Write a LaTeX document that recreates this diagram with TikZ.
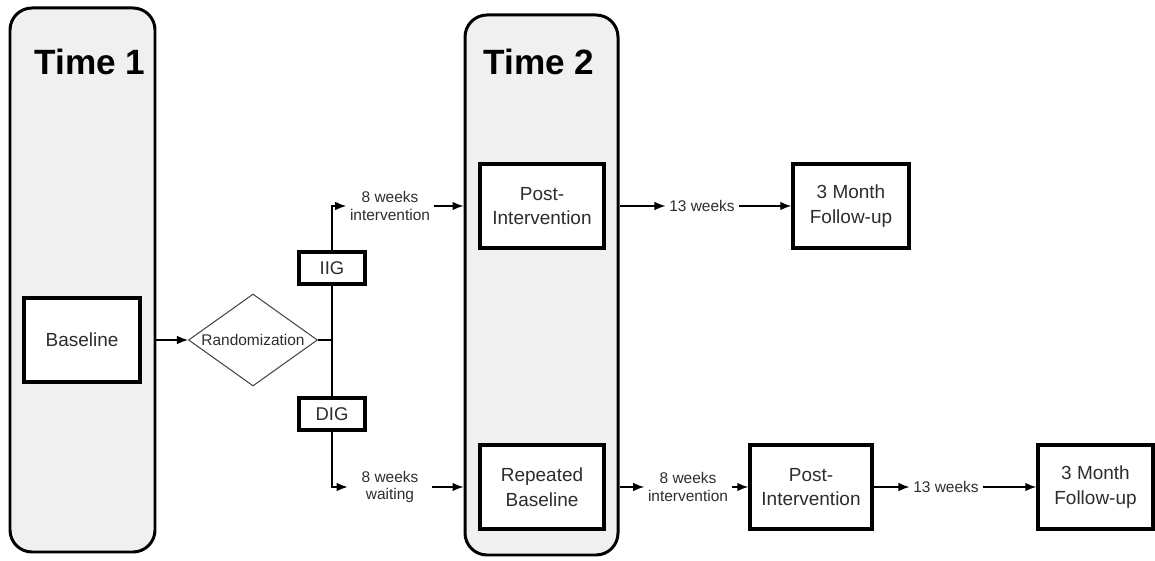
\documentclass[tikz,border=0pt]{standalone}
\usepackage{fontspec}
\setmainfont{Liberation Sans}
\usetikzlibrary{shapes.geometric,arrows.meta}
\definecolor{phasegray}{RGB}{240,240,240}
\definecolor{textgray}{RGB}{45,45,45}
\definecolor{edgegray}{RGB}{70,70,70}

\begin{document}
\begin{tikzpicture}[
        phase/.style={rectangle, rounded corners=0.44cm, draw=black, line width=1.7pt, fill=phasegray},
        title/.style={font=\fontsize{20}{24}\selectfont\bfseries, text=black},
        stage/.style={rectangle, draw=black, line width=2pt, fill=white, minimum width=2.48cm, minimum height=1.68cm, align=center, text=textgray, font=\fontsize{10.8}{14}\selectfont},
        group/.style={rectangle, draw=black, line width=2.2pt, fill=white, minimum width=1.32cm, minimum height=0.64cm, text=textgray, font=\fontsize{10.5}{12}\selectfont},
        decision/.style={diamond, draw=edgegray, line width=0.6pt, aspect=1.4, minimum width=2.58cm, minimum height=1.84cm, inner sep=0pt, text=textgray, font=\fontsize{8.8}{10}\selectfont},
        delay/.style={align=center, inner sep=2pt, text=textgray, font=\fontsize{8.8}{10.2}\selectfont},
        flow/.style={-{Latex[length=2.2mm,width=1.7mm]}, line width=0.7pt},
        link/.style={line width=0.7pt}
    ]
    \useasboundingbox (0,0) rectangle (23.1,11.2);

    % Time points
    \node[phase, minimum width=2.9cm, minimum height=10.88cm] (time1) at (1.65, 5.6) {};
    \node[phase, minimum width=3.06cm, minimum height=10.8cm] (time2) at (10.83, 5.5) {};
    \node[title] (time1_title) at (1.8, 9.96) {Time 1};
    \node[title] (time2_title) at (10.78, 9.96) {Time 2};

    % Stages
    \node[stage, minimum width=2.32cm] (baseline) at (1.64, 4.4) {Baseline};
    \node[decision] (rand) at (5.06, 4.4) {Randomization};
    \node[group] (iig) at (6.64, 5.84) {IIG};
    \node[group] (dig) at (6.64, 2.92) {DIG};
    \node[stage] (post_a) at (10.84, 7.08) {Post-\\Intervention};
    \node[stage] (rep_base) at (10.84, 1.46) {Repeated\\Baseline};
    \node[stage, minimum width=2.32cm] (follow_a) at (17.02, 7.08) {3 Month\\Follow-up};
    \node[stage, minimum width=2.44cm] (post_b) at (16.22, 1.46) {Post-\\Intervention};
    \node[stage, minimum width=2.3cm] (follow_b) at (21.91, 1.46) {3 Month\\Follow-up};

    % Delays
    \node[delay, minimum width=1.68cm] (iig_wait) at (7.8, 7.08) {8 weeks\\intervention};
    \node[delay, minimum width=1.68cm] (dig_wait) at (7.8, 1.46) {8 weeks\\waiting};
    \node[delay] (wk13_a) at (14.04, 7.08) {13 weeks};
    \node[delay] (wk8_b) at (13.76, 1.46) {8 weeks\\intervention};
    \node[delay] (wk13_b) at (18.92, 1.46) {13 weeks};

    % Randomization branches
    \draw[flow] (time1.east |- rand) -- (rand.west);
    \draw[link] (rand.east) -- (rand -| iig);
    \draw[link] (iig.south) -- (dig.north);
    \draw[flow] (iig.north) |- (iig_wait.west);
    \draw[flow] (dig.south) |- (dig_wait.west);
    \draw[flow] (iig_wait.east) -- (time2.west |- iig_wait);
    \draw[flow] (dig_wait.east) -- (time2.west |- dig_wait);

    % Follow-up flows
    \draw[flow] (time2.east |- post_a) -- (wk13_a.west);
    \draw[flow] (wk13_a.east) -- (follow_a.west);
    \draw[flow] (time2.east |- rep_base) -- (wk8_b.west);
    \draw[flow] (wk8_b.east) -- (post_b.west);
    \draw[flow] (post_b.east) -- (wk13_b.west);
    \draw[flow] (wk13_b.east) -- (follow_b.west);

\end{tikzpicture}
\end{document}
